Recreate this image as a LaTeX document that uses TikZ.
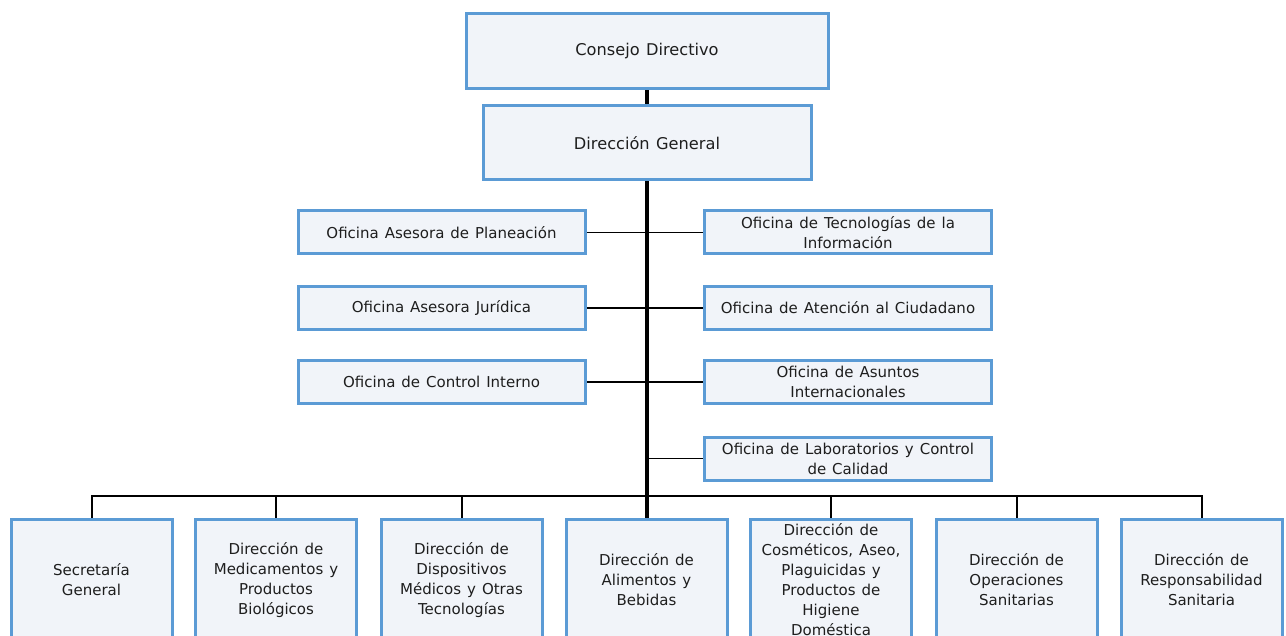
\documentclass[tikz,border=0pt]{standalone}
\usepackage{fontspec}
\setmainfont{DejaVu Sans}[WordSpace=1.25]
\definecolor{bordc}{HTML}{5B9BD5}
\definecolor{fillc}{HTML}{F1F4F9}
\definecolor{txtc}{HTML}{1E1E1E}
\begin{document}
\begin{tikzpicture}[x=1pt,y=-1pt,
  box/.style={draw=bordc,fill=fillc,line width=3pt,text=txtc,align=center,
    font=\fontsize{15}{20}\selectfont,inner sep=0pt},
  topbox/.style={box,minimum width=362,minimum height=75,font=\fontsize{16.2}{20}\selectfont},
  ofbox/.style={box,minimum width=287,minimum height=43},
  dirbox/.style={box,minimum width=161,minimum height=122},
  trunk/.style={line width=3.5pt,draw=black},
  thin/.style={line width=1.5pt,draw=black},
  busl/.style={line width=2pt,draw=black}]
\useasboundingbox (0,0) rectangle (1286,636);
\begin{scope}
\clip (0,0) rectangle (1286,636);
\coordinate (bus) at (647,496);
\node[topbox] (cd) at (647,51.5) {Consejo Directivo};
\node[topbox,minimum width=328,minimum height=74] (dg) at (647,143) {Dirección General};
\node[ofbox] (opla) at (441.5,232.5) {Oficina Asesora de Planeación};
\node[ofbox] (ojur) at (441.5,308) {Oficina Asesora Jurídica};
\node[ofbox] (ocin) at (441.5,382) {Oficina de Control Interno};
\node[ofbox] (otec) at (848,232.5) {Oficina de Tecnologías de la\\Información};
\node[ofbox] (oatc) at (848,308) {Oficina de Atención al Ciudadano};
\node[ofbox] (oasi) at (848,382) {Oficina de Asuntos\\Internacionales};
\node[ofbox] (olab) at (848,458.5) {Oficina de Laboratorios y Control\\de Calidad};
\node[dirbox] (sec) at (91.5,580) {Secretaría\\General};
\node[dirbox] (med) at (276,580) {Dirección de\\Medicamentos y\\Productos\\Biológicos};
\node[dirbox] (dis) at (461.5,580) {Dirección de\\Dispositivos\\Médicos y Otras\\Tecnologías};
\node[dirbox] (ali) at (646.5,580) {Dirección de\\Alimentos y\\Bebidas};
\node[dirbox] (cos) at (831,580) {Dirección de\\Cosméticos, Aseo,\\Plaguicidas y\\Productos de\\Higiene\\Doméstica};
\node[dirbox] (ope) at (1016.5,580) {Dirección de\\Operaciones\\Sanitarias};
\node[dirbox] (res) at (1201.5,580) {Dirección de\\Responsabilidad\\Sanitaria};
\draw[trunk] (cd.south) -- (dg.north);
\draw[trunk] (dg.south) -- (dg.south |- ali.north);
\draw[thin] (opla.east) -- (otec.west);
\draw[thin] (ojur.east) -- (oatc.west);
\draw[thin] (ocin.east) -- (oasi.west);
\draw[thin] (olab.west -| dg.south) -- (olab.west);
\foreach \n in {sec,med,dis,cos,ope,res}{\draw[busl] (\n.north) |- (bus);}
% redraw boxes over lines
\node[topbox] at (647,51.5) {Consejo Directivo};
\node[topbox,minimum width=328,minimum height=74] at (647,143) {Dirección General};
\node[ofbox] at (441.5,232.5) {Oficina Asesora de Planeación};
\node[ofbox] at (441.5,308) {Oficina Asesora Jurídica};
\node[ofbox] at (441.5,382) {Oficina de Control Interno};
\node[ofbox] at (848,232.5) {Oficina de Tecnologías de la\\Información};
\node[ofbox] at (848,308) {Oficina de Atención al Ciudadano};
\node[ofbox] at (848,382) {Oficina de Asuntos\\Internacionales};
\node[ofbox] at (848,458.5) {Oficina de Laboratorios y Control\\de Calidad};
\end{scope}
\end{tikzpicture}
\end{document}
